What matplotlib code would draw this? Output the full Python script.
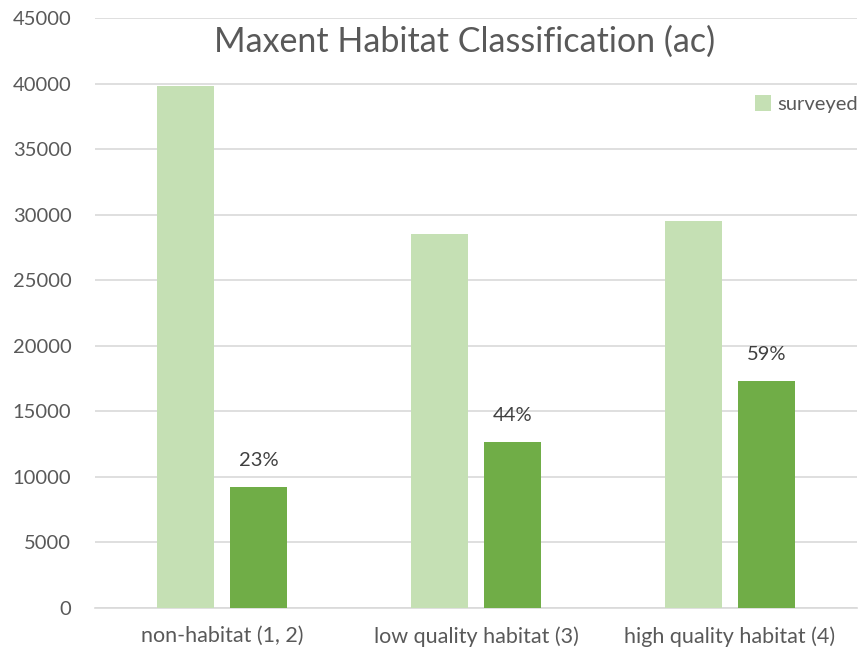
import matplotlib
matplotlib.use("Agg")
import matplotlib.pyplot as plt
import numpy as np

# datos
categorias = ["non-habitat (1, 2)", "low quality habitat (3)", "high quality habitat (4)"]
total = [39800, 28500, 29500]
surveyed = [9230, 12660, 17300]
etiquetas = ["23%", "44%", "59%"]

plt.rcParams['font.family'] = ['Lato', 'DejaVu Sans']
gris = "#595959"

fig = plt.figure(figsize=(8.65, 6.56), dpi=100)
ax = fig.add_axes([95/865, 48/656, 762/865, 590/656])

x = np.arange(len(categorias))
ancho = 0.224
sep = 0.063

ax.bar(x - (ancho + sep)/2, total, ancho, color="#c5e0b4", label="surveyed", zorder=3)
barras = ax.bar(x + (ancho + sep)/2, surveyed, ancho, color="#70ad47", zorder=3)

for b, txt in zip(barras, etiquetas):
    ax.text(b.get_x() + b.get_width()/2, b.get_height() + 1400, txt,
            ha="center", va="bottom", fontsize=14.5, color="#404040")

ax.set_xlim(-0.5, len(categorias) - 0.5)
ax.set_ylim(0, 45000)
ax.set_yticks(np.arange(0, 45001, 5000))
ax.set_xticks(x)
ax.set_xticklabels(categorias)
ax.tick_params(axis="both", length=0, labelsize=14.5, labelcolor=gris)
ax.tick_params(axis="x", labelsize=15.5, pad=13)
ax.tick_params(axis="y", pad=17)
ax.yaxis.grid(True, color="#d9d9d9", linewidth=1.2, zorder=0)

for lado in ["top", "right", "left"]:
    ax.spines[lado].set_visible(False)
ax.spines["bottom"].set_color("#d9d9d9")
ax.spines["bottom"].set_linewidth(1.2)

fig.text(465/865, 1 - 42/656, "Maxent Habitat Classification (ac)",
         ha="center", va="center", fontsize=24.5, color=gris)

ax.legend(loc="upper right", bbox_to_anchor=(1.025, 0.90), frameon=False,
          fontsize=14.5, handlelength=0.8, handleheight=0.8, handletextpad=0.3,
          labelcolor=gris)

plt.savefig("out.png", dpi=100)
